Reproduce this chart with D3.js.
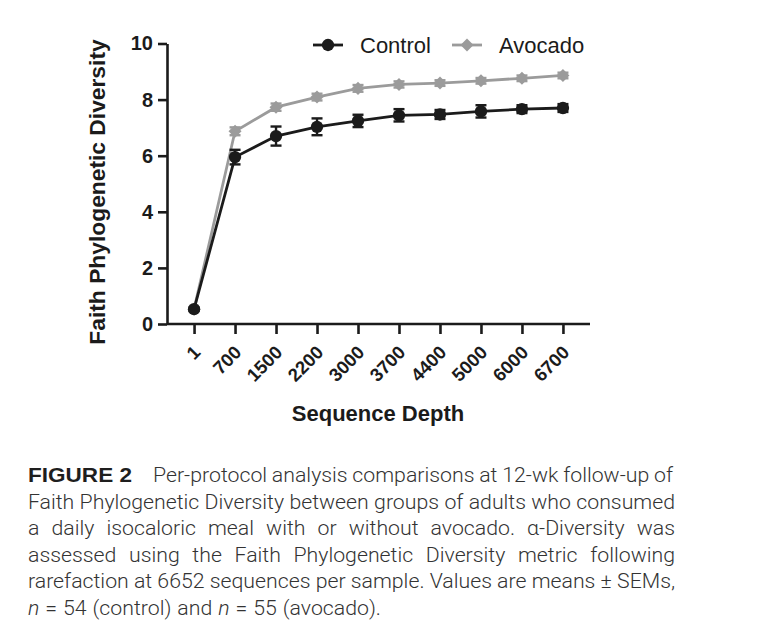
<!DOCTYPE html>
<html>
<head>
<meta charset="utf-8">
<script src="https://cdn.jsdelivr.net/npm/d3@7"></script>
<style>
  body { margin: 0; background: #fff; }
  svg { display: block; }
</style>
</head>
<body>
<div id="canvas"></div>
<script>
// data
const depths = ["1", "700", "1500", "2200", "3000", "3700", "4400", "5000", "6000", "6700"];
const controlMean = [0.53, 5.95, 6.70, 7.03, 7.24, 7.44, 7.47, 7.58, 7.66, 7.70];
const controlSem  = [0.05, 0.26, 0.34, 0.30, 0.22, 0.22, 0.16, 0.22, 0.14, 0.14];
const avocadoMean = [0.53, 6.87, 7.73, 8.09, 8.40, 8.54, 8.59, 8.67, 8.76, 8.86];
const avocadoSem  = [0.05, 0.14, 0.13, 0.12, 0.12, 0.11, 0.10, 0.10, 0.10, 0.10];
const yTicks = [0, 2, 4, 6, 8, 10];

const captionLines = [
  "Faith Phylogenetic Diversity between groups of adults who consumed",
  "a daily isocaloric meal with or without avocado. α-Diversity was",
  "assessed using the Faith Phylogenetic Diversity metric following",
  "rarefaction at 6652 sequences per sample. Values are means ± SEMs,",
  "n = 54 (control) and n = 55 (avocado)."
];
const captionFirst = "Per-protocol analysis comparisons at 12-wk follow-up of";

const width = 758, height = 636;
const ink = "#1b1b1b", grey = "#9b9b9b";
const font = "'Liberation Sans', Arial, sans-serif";

const svg = d3.select("#canvas").append("svg")
  .attr("width", width).attr("height", height);

const x = d3.scalePoint().domain(depths).range([167, 590]).padding(0.66);
const y = d3.scaleLinear().domain([0, 10]).range([324, 43.5]);

// axes
const yAxis = svg.append("g")
  .attr("transform", "translate(167,0)")
  .call(d3.axisLeft(y).tickValues(yTicks).tickSize(9).tickSizeOuter(0).tickPadding(5));
const xAxis = svg.append("g")
  .attr("transform", `translate(0,${y(0)})`)
  .call(d3.axisBottom(x).tickSize(10).tickSizeOuter(0).tickFormat(""));
xAxis.select(".domain").attr("d", `M167,0H590`);

[yAxis, xAxis].forEach(a => {
  a.select(".domain").attr("stroke", ink).attr("stroke-width", 2.6);
  a.selectAll(".tick line").attr("stroke", ink).attr("stroke-width", 2.6);
});
yAxis.selectAll(".tick text")
  .attr("fill", ink).style("font", `bold 20px ${font}`);

// rotated x labels
svg.append("g").selectAll("text").data(depths).enter().append("text")
  .attr("transform", d => `translate(${x(d) + 3},${y(0) + 25}) rotate(-45)`)
  .attr("text-anchor", "end")
  .attr("dy", "0.35em")
  .attr("fill", ink)
  .style("font", `bold 18.5px ${font}`)
  .text(d => d);

// axis titles
svg.append("text")
  .attr("transform", "translate(97,192) rotate(-90)")
  .attr("text-anchor", "middle").attr("dy", "0.35em")
  .attr("fill", ink).style("font", `bold 22.8px ${font}`)
  .text("Faith Phylogenetic Diversity");
svg.append("text")
  .attr("x", 378).attr("y", 421)
  .attr("text-anchor", "middle")
  .attr("fill", ink).style("font", `bold 22px ${font}`)
  .text("Sequence Depth");

// series
const line = d3.line().x(d => x(d.k)).y(d => y(d.m));
function series(mean, sem, color, shape) {
  const pts = depths.map((k, i) => ({ k, m: mean[i], s: sem[i] }));
  const g = svg.append("g");
  g.append("path").datum(pts).attr("d", line)
    .attr("fill", "none").attr("stroke", color).attr("stroke-width", 2.8);
  const eb = g.selectAll(".eb").data(pts).enter().append("g");
  eb.append("line")
    .attr("x1", d => x(d.k)).attr("x2", d => x(d.k))
    .attr("y1", d => y(d.m + d.s)).attr("y2", d => y(d.m - d.s))
    .attr("stroke", color).attr("stroke-width", 2.4);
  [1, -1].forEach(sgn => {
    eb.append("line")
      .attr("x1", d => x(d.k) - 5.5).attr("x2", d => x(d.k) + 5.5)
      .attr("y1", d => y(d.m + sgn * d.s)).attr("y2", d => y(d.m + sgn * d.s))
      .attr("stroke", color).attr("stroke-width", 2.4);
  });
  g.selectAll(".mk").data(pts).enter().append("path")
    .attr("transform", d => `translate(${x(d.k)},${y(d.m)})` + (shape === "diamond" ? " rotate(45)" : ""))
    .attr("d", shape === "diamond" ? d3.symbol(d3.symbolSquare, 85)() : d3.symbol(d3.symbolCircle, 120)())
    .attr("fill", color);
}
series(avocadoMean, avocadoSem, grey, "diamond");
series(controlMean, controlSem, ink, "circle");

// legend
const legend = [
  { name: "Control", color: ink, shape: "circle", x: 313 },
  { name: "Avocado", color: grey, shape: "diamond", x: 452 }
];
legend.forEach(l => {
  const g = svg.append("g").attr("transform", `translate(${l.x},45)`);
  g.append("line").attr("x1", 0).attr("x2", 30).attr("stroke", l.color).attr("stroke-width", 2.8);
  g.append("path")
    .attr("transform", "translate(15,0)" + (l.shape === "diamond" ? " rotate(45)" : ""))
    .attr("d", l.shape === "diamond" ? d3.symbol(d3.symbolSquare, 85)() : d3.symbol(d3.symbolCircle, 120)())
    .attr("fill", l.color);
  g.append("text").attr("x", 47).attr("y", 8)
    .attr("fill", ink).style("font", `22px ${font}`).text(l.name);
});

// caption, justified word by word
const capFont = "Roboto, 'Liberation Sans', sans-serif";
const capSize = 19.5, capColor = "#333";
const cap = svg.append("g");
function measure(t, italic) {
  const el = cap.append("text").style("font-family", capFont).style("font-size", capSize + "px")
    .style("font-weight", 300).style("font-style", italic ? "italic" : "normal").text(t);
  const w = el.node().getComputedTextLength();
  el.remove();
  return w;
}
const spaceW = measure("a a") - measure("aa");
const natural = s => s.split(" ").reduce((a, w) => a + measure(w), 0) + spaceW * (s.split(" ").length - 1);
const squeeze = (675 - 28) / natural(captionLines[3]);

function wordLine(words, left, right, baseline, justify) {
  const ws = words.map(w => measure(w, w === "n") * squeeze);
  const total = d3.sum(ws);
  const gap = justify ? (right - left - total) / (words.length - 1) : spaceW * squeeze * 1.15;
  let cx = left;
  words.forEach((w, i) => {
    cap.append("text").attr("x", cx).attr("y", baseline)
      .attr("textLength", ws[i]).attr("lengthAdjust", "spacingAndGlyphs")
      .attr("fill", capColor)
      .style("font-family", capFont).style("font-size", capSize + "px").style("font-weight", 300)
      .style("font-style", w === "n" ? "italic" : "normal")
      .text(w);
    cx += ws[i] + gap;
  });
}
cap.append("text").attr("x", 28).attr("y", 482)
  .attr("textLength", 104).attr("lengthAdjust", "spacingAndGlyphs")
  .attr("fill", "#1e1e1e").style("font", `bold 20px ${font}`).text("FIGURE 2");
wordLine(captionFirst.split(" "), 153, 673, 482, true);
captionLines.forEach((l, i) => {
  wordLine(l.split(" "), 28, 675, 508.5 + i * 26.5, i < captionLines.length - 1);
});
</script>
</body>
</html>
